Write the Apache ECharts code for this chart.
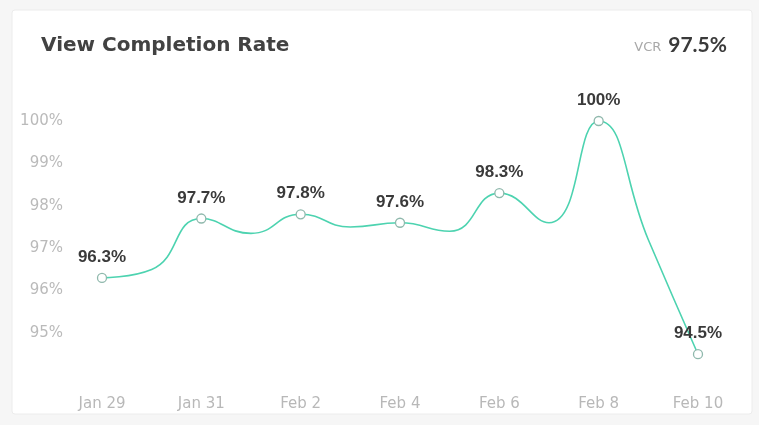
<!DOCTYPE html>
<html>
<head>
<meta charset="utf-8">
<script src="https://cdn.jsdelivr.net/npm/echarts@6/dist/echarts.min.js"></script>
<style>
  html, body { margin: 0; padding: 0; background: #f6f6f6; }
  #chart { width: 759px; height: 425px; }
</style>
</head>
<body>
<div id="chart"></div>
<script>
// Daily view completion rate (%), Jan 29 – Feb 10
const days = ['Jan 29', 'Jan 30', 'Jan 31', 'Feb 1', 'Feb 2', 'Feb 3', 'Feb 4',
              'Feb 5', 'Feb 6', 'Feb 7', 'Feb 8', 'Feb 9', 'Feb 10'];
const rates = [96.3, 96.5, 97.7, 97.35, 97.8, 97.5, 97.6, 97.4, 98.3, 97.6, 100, 97.2, 94.5];
const yTicks = [95, 96, 97, 98, 99, 100];
const overallVcr = '97.5%';

// Every other day carries a marker and a value label
const seriesData = rates.map((v, i) => {
  const marked = i % 2 === 0;
  return {
    value: v,
    symbol: marked ? 'circle' : 'none',
    label: { show: marked }
  };
});

const axisFont = '"DejaVu Sans", sans-serif';

const chart = echarts.init(document.getElementById('chart'));
chart.setOption({
  animation: false,
  backgroundColor: '#f6f6f6',
  graphic: [
    {
      type: 'rect',
      shape: { x: 12, y: 10, width: 740, height: 404, r: 3 },
      style: { fill: '#ffffff', stroke: '#ececec', lineWidth: 1 },
      z: -10
    },
    {
      type: 'text',
      left: 41, top: 36,
      style: {
        text: 'View Completion Rate',
        font: 'bold 20px "DejaVu Sans"',
        fill: '#424242'
      }
    },
    {
      type: 'text',
      right: 32, top: 35,
      style: {
        rich: {
          k: { font: '13px "DejaVu Sans"', fill: '#a8a8a8', padding: [5, 7, 0, 0] },
          v: { font: 'bold 21px Lato', fill: '#3a3a3a' }
        },
        text: '{k|VCR}{v|' + overallVcr + '}'
      }
    }
  ],
  grid: { left: 102, right: 61, top: 78.6, bottom: 49.6 },
  xAxis: {
    type: 'category',
    data: days,
    boundaryGap: false,
    axisLine: { show: false },
    axisTick: { show: false },
    splitLine: { show: false },
    axisLabel: {
      interval: 1,
      margin: 21,
      color: '#b8b8b8',
      fontSize: 15,
      fontFamily: axisFont
    }
  },
  yAxis: {
    type: 'value',
    min: 94,
    max: 101,
    interval: 1,
    axisLine: { show: false },
    axisTick: { show: false },
    splitLine: { show: false },
    axisLabel: {
      margin: 39,
      color: '#bababa',
      fontSize: 15,
      fontFamily: axisFont,
      formatter: v => (yTicks.includes(v) ? v + '%' : '')
    }
  },
  series: [{
    type: 'line',
    data: seriesData,
    smooth: 0.5,
    symbolSize: 9,
    lineStyle: { color: '#4dd3b0', width: 1.6 },
    itemStyle: { color: '#ffffff', borderColor: '#8fb8ac', borderWidth: 1.3 },
    label: {
      position: 'top',
      distance: 7,
      formatter: p => p.value + '%',
      color: '#3a3a3a',
      fontSize: 17,
      fontWeight: 'bold',
      fontFamily: '"Liberation Sans", Arial, sans-serif'
    }
  }]
});
</script>
</body>
</html>
